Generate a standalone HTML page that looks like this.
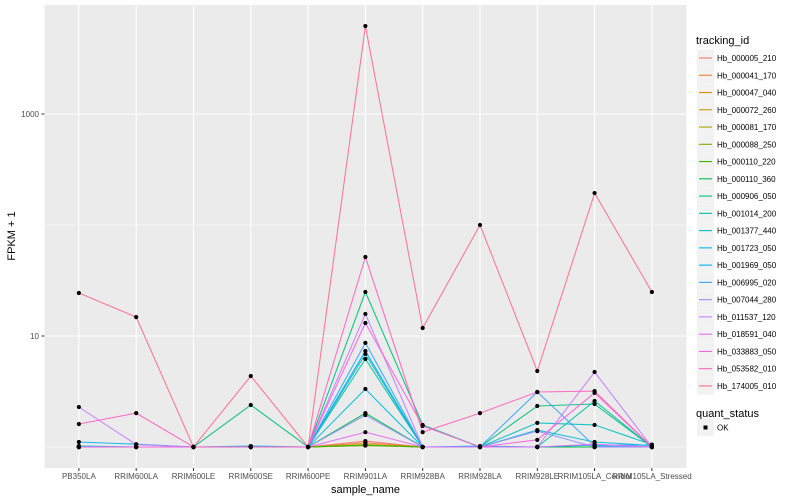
<!DOCTYPE html>
<html><head><meta charset="utf-8"><style>
body{margin:0;background:#fff;}
svg{display:block;font-family:"Liberation Sans",sans-serif;}
</style></head><body>
<svg id="chart" width="800" height="500">
<rect x="0" y="0" width="800" height="500" fill="#fff"/>
<rect x="44.5" y="5" width="642" height="463" fill="#EBEBEB"/>
<g id="grid"></g><g id="series"></g><g id="points"></g><g id="axes"></g><g id="legend"></g>
</svg>
<script>
const categories = ["PB350LA","RRIM600LA","RRIM600LE","RRIM600SE","RRIM600PE","RRIM901LA","RRIM928BA","RRIM928LA","RRIM928LE","RRIM105LA_Control","RRIM105LA_Stressed"];
const seriesNames = ["Hb_000005_210","Hb_000041_170","Hb_000047_040","Hb_000072_260","Hb_000081_170","Hb_000088_250","Hb_000110_220","Hb_000110_360","Hb_000906_050","Hb_001014_200","Hb_001377_440","Hb_001723_050","Hb_001969_050","Hb_006995_020","Hb_007044_280","Hb_011537_120","Hb_018591_040","Hb_033883_050","Hb_053582_010","Hb_174005_010"];
const seriesColors = ["#F8766D","#EA8331","#D89000","#C09B00","#A3A500","#7CAE00","#39B600","#00BB4E","#00BF7D","#00C1A3","#00BFC4","#00BAE0","#00B0F6","#35A2FF","#9590FF","#C77CFF","#E76BF3","#FA62DB","#FF62BC","#FF6C91"];
const s00 = [1,1,1,1,1,1.13,1,1,1,1,1];
const s01 = [1,1,1,1,1,1.09,1,1,1,1,1];
const s02 = [1,1,1,1,1,1.05,1,1,1,1,1];
const s03 = [1,1,1,1,1,1.04,1,1,1,1,1];
const s04 = [1,1,1,1,1,1.03,1,1,1,1,1];
const s05 = [1,1,1,1,1,1.03,1,1,1,1,1];
const s06 = [1,1,1,1,1,1.04,1,1,1,1,1];
const s07 = [1,1,1,1,1,2.02,1,1,1,1,1];
const s08 = [1,1,1,2.39,1,24.9,1.58,1,2.34,2.44,1];
const s09 = [1,1,1,1,1,6.2,1,1,1,2.6,1];
const s10 = [1,1,1,1,1,6.88,1,1,1.65,1.58,1.05];
const s11 = [1.02,1,1,1,1,3.33,1,1,1.42,1.11,1.03];
const s12 = [1.11,1.06,1,1.02,1,7.33,1,1.02,1,1.04,1.04];
const s13 = [1,1,1,1,1,8.67,1,1,3.13,1.02,1];
const s14 = [1,1,1,1,1,1.94,1,1,1.39,1,1];
const s15 = [2.29,1.05,1,1,1,15.8,1,1,1,4.74,1];
const s16 = [1,1,1,1,1,1.36,1,1,1,1.06,1];
const s17 = [1,1,1,1,1,13.1,1.55,1,1.16,3.07,1];
const s18 = [1.61,2.02,1,1,1,51.5,1.36,2.02,3.13,3.19,1];
const s19 = [24.4,14.8,1,4.36,1,6200,11.8,100,4.84,194,24.9];
const seriesValues = [s00,s01,s02,s03,s04,s05,s06,s07,s08,s09,s10,s11,s12,s13,s14,s15,s16,s17,s18,s19];
const yTicks = [10,1000];
const yTickLabels = ["10","1000"];

const NS="http://www.w3.org/2000/svg";
function mk(tag,attrs,parent){const e=document.createElementNS(NS,tag);for(const k in attrs)e.setAttribute(k,attrs[k]);parent.appendChild(e);return e;}
const px0=44.5, pstep=57.3;
function xPos(i){return px0+(i+0.6)*pstep;}
function yPos(v){return 447-111*Math.log10(v);}
const grid=document.getElementById('grid');
[1,100].forEach(v=>{const l=mk('line',{x1:44.5,x2:686.5,y1:yPos(v),y2:yPos(v),stroke:'#fff','stroke-width':0.6},grid);

});
yTicks.forEach(v=>{const l=mk('line',{x1:44.5,x2:686.5,y1:yPos(v),y2:yPos(v),stroke:'#fff','stroke-width':1.1},grid);

});
categories.forEach((c,i)=>{const l=mk('line',{x1:xPos(i),x2:xPos(i),y1:5,y2:468,stroke:'#fff','stroke-width':1.1},grid);

});
const sg=document.getElementById('series'), pg=document.getElementById('points');
seriesValues.forEach((vals,si)=>{
 const d=vals.map((v,i)=>(i?'L':'M')+xPos(i).toFixed(1)+','+yPos(v).toFixed(1)).join(' ');
 const p=mk('path',{d:d,fill:'none',stroke:seriesColors[si],'stroke-width':1.1,'stroke-opacity':0.9},sg);
 
 
 vals.forEach((v,i)=>{const c=mk('circle',{cx:xPos(i),cy:yPos(v),r:2.1,fill:'#000'},pg);
  
  });
});
const ax=document.getElementById('axes');
yTicks.forEach((v,i)=>{
 const t=mk('line',{x1:41.5,x2:44.5,y1:yPos(v),y2:yPos(v),stroke:'#333','stroke-width':1},ax);
 
 
 const tx=mk('text',{x:39,y:yPos(v)+3,'text-anchor':'end','font-size':8,fill:'#4D4D4D'},ax);
 tx.textContent=yTickLabels[i];
 
 
});
categories.forEach((c,i)=>{
 const t=mk('line',{x1:xPos(i),x2:xPos(i),y1:468,y2:471,stroke:'#333','stroke-width':1},ax);
 
 
 const tx=mk('text',{x:xPos(i),y:479,'text-anchor':'middle','font-size':8,fill:'#4D4D4D'},ax);
 tx.textContent=c;
 
 
});
const xt=mk('text',{x:365.5,y:493,'text-anchor':'middle','font-size':11,fill:'#000'},ax);xt.textContent='sample_name';


const yt=mk('text',{x:0,y:0,'text-anchor':'middle','font-size':11,fill:'#000',transform:'translate(15,236) rotate(-90)'},ax);yt.textContent='FPKM + 1';


const lg=document.getElementById('legend');
const lt=mk('text',{x:696,y:44,'font-size':11,fill:'#000'},lg);lt.textContent='tracking_id';


seriesNames.forEach((n,i)=>{
 const y=58+i*17.26;
 const g=mk('g',{},lg);
 
 
 mk('rect',{x:697,y:y-8.5,width:17,height:17,fill:'#F2F2F2'},g);
 mk('line',{x1:699,x2:712,y1:y,y2:y,stroke:seriesColors[i],'stroke-width':1.1},g);
 const t=mk('text',{x:717,y:y+3,'font-size':8,fill:'#000'},g);t.textContent=n;
});
const qt=mk('text',{x:696,y:417,'font-size':11,fill:'#000'},lg);qt.textContent='quant_status';


const qg=mk('g',{},lg);


mk('rect',{x:697,y:419,width:17,height:17,fill:'#F2F2F2'},qg);
mk('rect',{x:703.5,y:425.5,width:4,height:4,fill:'#000'},qg);
const qx=mk('text',{x:717,y:430.5,'font-size':8,fill:'#000'},qg);qx.textContent='OK';
</script>
</body></html>
